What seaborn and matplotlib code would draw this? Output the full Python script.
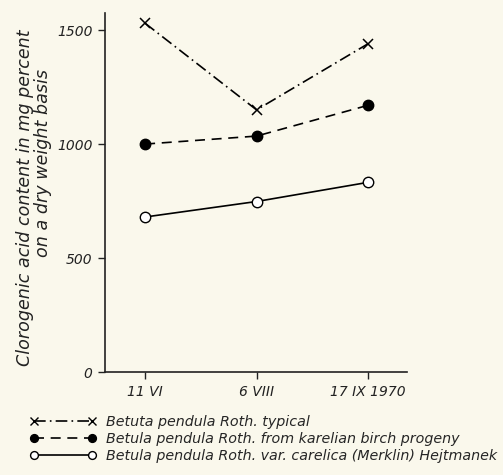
import matplotlib
matplotlib.use("Agg")
import matplotlib.pyplot as plt
import seaborn as sns
import pandas as pd
from matplotlib.lines import Line2D

dates = ["11 VI", "6 VIII", "17 IX 1970"]
typical = [1530, 1150, 1440]
karelian = [1000, 1035, 1170]
carelica = [680, 748, 832]
labels = [
    "Betuta pendula Roth. typical",
    "Betula pendula Roth. from karelian birch progeny",
    "Betula pendula Roth. var. carelica (Merklin) Hejtmanek",
]
ylabel_lines = ["Clorogenic acid content in mg percent", "on a dry weight basis"]
yticks = [0, 500, 1000, 1500]

sns.set_style("ticks")
plt.rcParams["font.family"] = ["DejaVu Sans"]
plt.rcParams["font.style"] = "italic"
bg = "#FAF8EC"

fig = plt.figure(figsize=(5.03, 4.75), dpi=100, facecolor=bg)
ax = fig.add_axes([105 / 503, 103 / 475, 302 / 503, 359 / 475])
ax.set_facecolor(bg)

xpos = list(range(len(dates)))
styles = [
    dict(marker="x", linestyle=(0, (7, 2.5, 1, 2.5)), mfc="black", ms=7, mew=1.1),
    dict(marker="o", linestyle=(0, (6, 4)), mfc="black", ms=7.5, mew=1.0),
    dict(marker="o", linestyle="-", mfc="white", ms=7.5, mew=1.0),
]
series = [typical, karelian, carelica]
for vals, st, lab in zip(series, styles, labels):
    df = pd.DataFrame({"x": xpos, "y": vals})
    sns.lineplot(data=df, x="x", y="y", ax=ax, color="black", lw=1.2,
                 marker=st["marker"], linestyle=st["linestyle"],
                 markerfacecolor=st["mfc"], markeredgecolor="black",
                 markersize=st["ms"], markeredgewidth=st["mew"], label=lab)
ax.get_legend().remove()

handles = [Line2D([], [], color="black", lw=1.2, marker=st["marker"],
                  linestyle=st["linestyle"], markerfacecolor=st["mfc"],
                  markeredgecolor="black", markersize=st["ms"] * 0.75,
                  markeredgewidth=1.0) for st in styles]

ax.set_xlim(-0.36, 2.35)
ax.set_ylim(0, 1575)
ax.set_xticks(xpos)
ax.set_xticklabels(dates, fontsize=10)
ax.set_yticks(yticks)
ax.set_yticklabels([str(v) for v in yticks], fontsize=10)
ax.tick_params(direction="out", length=5, width=1, colors="#222222", pad=4)
ax.set_xlabel("")
ax.set_ylabel("")
sns.despine(ax=ax)
for s in ["left", "bottom"]:
    ax.spines[s].set_color("#222222")
    ax.spines[s].set_linewidth(1.2)

fig.text(25 / 503, 1 - 198 / 475, ylabel_lines[0], rotation=90, ha="center",
         va="center", fontsize=12.6, color="#222222")
fig.text(43 / 503, 1 - 163 / 475, ylabel_lines[1], rotation=90, ha="center",
         va="center", fontsize=12.6, color="#222222")

fig.legend(handles, labels, loc="upper left",
           bbox_to_anchor=(30 / 503, (475 - 415) / 475),
           frameon=False, numpoints=2, handlelength=4.6, handletextpad=0.7,
           labelspacing=0.2, borderpad=0, borderaxespad=0, fontsize=10.3)

fig.savefig("out.png", dpi=100, facecolor=bg)
